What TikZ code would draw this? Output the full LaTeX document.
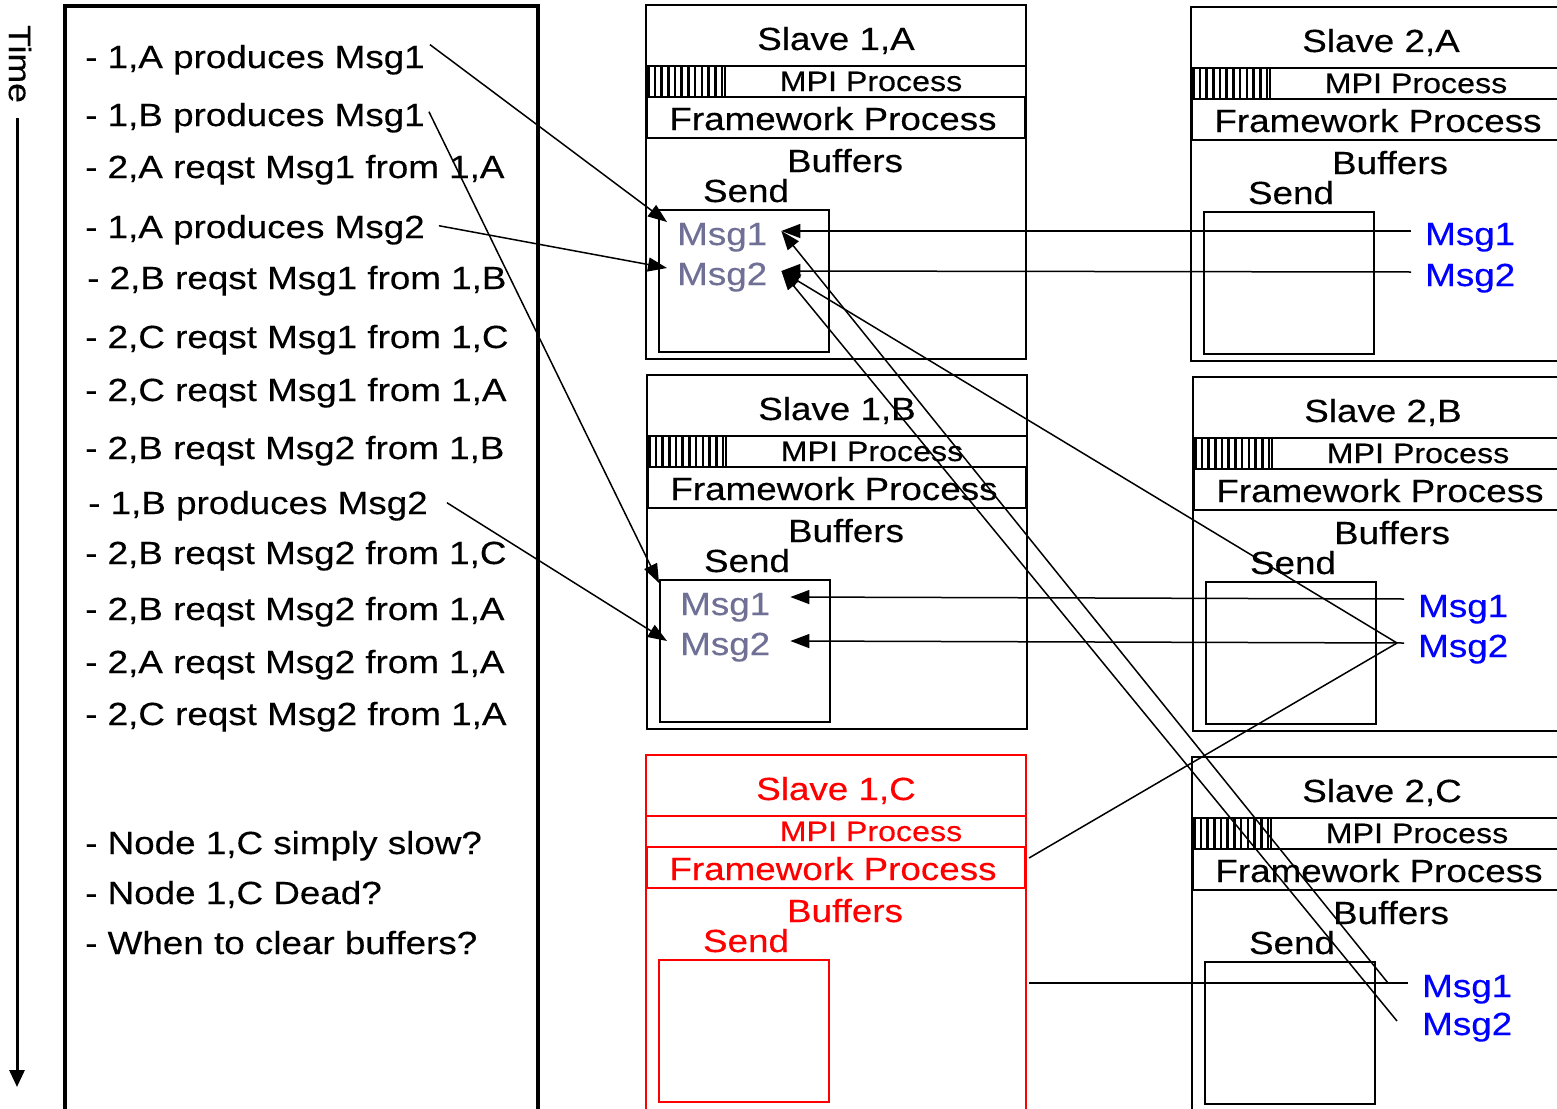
\documentclass[tikz,border=0pt]{standalone}
\usepackage{fontspec}
\setmainfont{Liberation Sans}
\newfontfamily\widefont{Liberation Sans}[FakeStretch=1.15,FakeBold=0.3]
\usetikzlibrary{arrows.meta}
\definecolor{msggray}{RGB}{112,112,150}
\definecolor{msgblue}{RGB}{0,0,255}
\definecolor{slavered}{RGB}{255,0,0}
\newcommand\mainfnt{\widefont\fontsize{32}{38}\selectfont}
\newcommand\mpifnt{\widefont\fontsize{28}{33}\selectfont}
\newcommand\timefnt{\widefont\fontsize{31}{36}\selectfont}
\tikzset{
  txt/.style={font=\mainfnt, inner sep=0pt},
  mpitxt/.style={font=\mpifnt, inner sep=0pt},
  lefttxt/.style={font=\mainfnt, inner sep=0pt, anchor=base west},
  msg/.style={font=\mainfnt, inner xsep=14pt, inner ysep=0pt, text height=28pt, text depth=0pt, anchor=base west},
  boxline/.style={line width=2pt},
  fwline/.style={line width=2.6pt},
  conn/.style={line width=1.5pt},
  arr/.style={conn, -{Triangle[length=19pt,width=14pt]}},
}
\newcommand\slavebox[6]{%
\begin{scope}[shift={(#1,#2)},color=#5]
  \draw[boxline] (0,0) rectangle (380,#6);
  \draw[boxline] (0,61) rectangle (380,92);
  \draw[fwline] (1,92) rectangle (379,133);
  \draw[boxline] (13,205) rectangle (183,347);
  \node[txt,anchor=base] (#3title) at (190,45) {#4};
  \node[mpitxt,anchor=base] (#3mpi) at (225,86) {MPI Process};
  \node[txt,anchor=base] (#3fw) at (187,125) {Framework Process};
  \node[txt,anchor=base] (#3buf) at (199,167) {Buffers};
  \node[txt,anchor=base] (#3send) at (100,197) {Send};
\end{scope}}
\newcommand\hatchbar[2]{%
\begin{scope}[shift={(#1,#2)}]
  \foreach \k in {0,...,11} \draw[line width=2.6pt] ({2.2+6.7*\k},61) -- ({2.2+6.7*\k},92);
  \draw[line width=1.5pt] (79,61) -- (79,92);
\end{scope}}
\begin{document}
\begin{tikzpicture}[x=1pt,y=-1pt]
\clip (0,0) rectangle (1557,1108);
\fill[white] (0,0) rectangle (1557,1108);

% time axis
\node[font=\timefnt, inner sep=0pt, rotate=-90] (time) at (20,64) {Time};
\coordinate (tend) at (17,1087);
\coordinate (tstart) at ([yshift=-15pt]time.east);
\draw[line width=3pt, -{Triangle[length=17pt,width=15pt]}] (tstart -| tend) -- (tend);

% left panel
\draw[line width=4pt] (65,6) rectangle (538,1140);
\node[lefttxt] (l1) at (85,68) {- 1,A produces Msg1};
\node[lefttxt] (l2) at (85,126) {- 1,B produces Msg1};
\node[lefttxt] (l3) at (85,178) {- 2,A reqst Msg1 from 1,A};
\node[lefttxt] (l4) at (85,238) {- 1,A produces Msg2};
\node[lefttxt] (l5) at (87,289) {- 2,B reqst Msg1 from 1,B};
\node[lefttxt] (l6) at (85,348) {- 2,C reqst Msg1 from 1,C};
\node[lefttxt] (l7) at (85,401) {- 2,C reqst Msg1 from 1,A};
\node[lefttxt] (l8) at (85,459) {- 2,B reqst Msg2 from 1,B};
\node[lefttxt] (l9) at (88,514) {- 1,B produces Msg2};
\node[lefttxt] (l10) at (85,564) {- 2,B reqst Msg2 from 1,C};
\node[lefttxt] (l11) at (85,620) {- 2,B reqst Msg2 from 1,A};
\node[lefttxt] (l12) at (85,673) {- 2,A reqst Msg2 from 1,A};
\node[lefttxt] (l13) at (85,725) {- 2,C reqst Msg2 from 1,A};
\node[lefttxt] (l14) at (85,854) {- Node 1,C simply slow?};
\node[lefttxt] (l15) at (85,904) {- Node 1,C Dead?};
\node[lefttxt] (l16) at (85,954) {- When to clear buffers?};

% slave boxes
\hatchbar{646}{5}
\slavebox{646}{5}{a1}{Slave 1,A}{black}{354}
\hatchbar{1191}{7}
\slavebox{1191}{7}{a2}{Slave 2,A}{black}{354}
\hatchbar{647}{375}
\slavebox{647}{375}{b1}{Slave 1,B}{black}{354}
\hatchbar{1193}{377}
\slavebox{1193}{377}{b2}{Slave 2,B}{black}{354}
\slavebox{646}{755}{c1}{Slave 1,C}{slavered}{400}
\hatchbar{1192}{757}
\slavebox{1192}{757}{c2}{Slave 2,C}{black}{400}

% messages
\node[msg, text=msggray] (a1m1) at (663,245) {Msg1};
\node[msg, text=msggray] (a1m2) at (663,285) {Msg2};
\node[msg, text=msggray] (b1m1) at (666,615) {Msg1};
\node[msg, text=msggray] (b1m2) at (666,655) {Msg2};
\node[msg, text=msgblue] (a2m1) at (1411,245) {Msg1};
\node[msg, text=msgblue] (a2m2) at (1411,286) {Msg2};
\node[msg, text=msgblue] (b2m1) at (1404,617) {Msg1};
\node[msg, text=msgblue] (b2m2) at (1404,657) {Msg2};
\node[msg, text=msgblue] (c2m1) at (1408,997) {Msg1};
\node[msg, text=msgblue] (c2m2) at (1408,1035) {Msg2};

\coordinate (c1in1) at (1029,858);
\coordinate (c1in2) at (1029,985);

% producer arrows
\draw[arr] ([xshift=5pt]l1.north east) -- ([xshift=4pt,yshift=9pt]a1m1.west);
\draw[arr] ([xshift=4pt,yshift=6pt]l2.east) -- ([xshift=-7pt,yshift=18pt]b1m1.west);
\draw[arr] ([xshift=14pt,yshift=4pt]l4.east) -- ([xshift=4pt,yshift=3pt]a1m2.west);
\draw[arr] ([xshift=19pt,yshift=3pt]l9.east) -- ([xshift=1pt]b1m2.west);

% requests answered
\draw[arr] (a2m1.west) -- (a1m1.east);
\draw[arr] (a2m2.west) -- (a1m2.east);
\draw[arr] ([yshift=4pt]b2m1.west) -- ([xshift=6pt,yshift=4pt]b1m1.east);
\draw[arr] (b2m2.west) -- ([xshift=6pt]b1m2.east);
\draw[arr] ([xshift=-7pt]b2m2.west) -- (a1m2.east);
\draw[arr] ([xshift=-20pt]c2m1.west) -- (a1m1.east);
\draw[arr] ([xshift=-11pt]c2m2.west) -- (a1m2.east);

% requests to slow node 1,C
\draw[conn] ([xshift=-7pt]b2m2.west) -- (c1in1);
\draw[conn] (c2m1.west) -- (c2m1.west -| c1in2);
\end{tikzpicture}
\end{document}
